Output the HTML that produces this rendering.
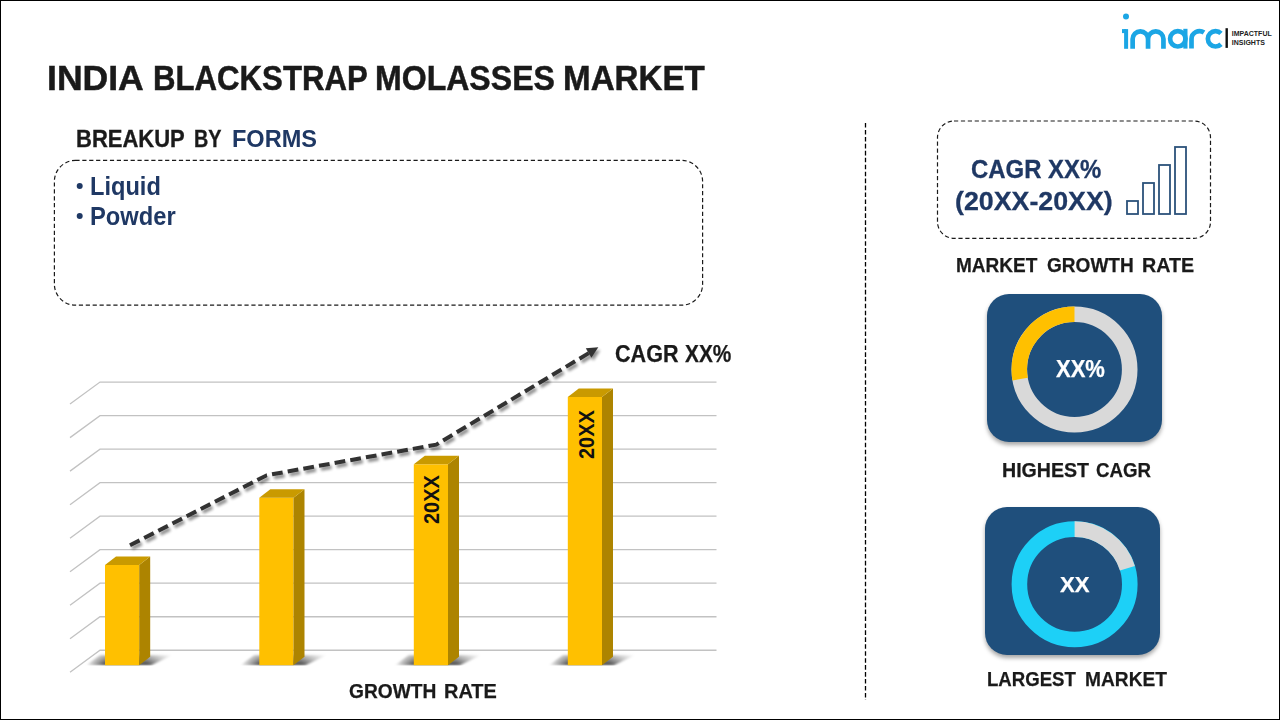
<!DOCTYPE html>
<html><head><meta charset="utf-8">
<style>
*{margin:0;padding:0;box-sizing:border-box}
html,body{width:1280px;height:720px;overflow:hidden;background:#fff}
body{position:relative;font-family:"Liberation Sans",sans-serif;font-weight:bold}
#frame{position:absolute;left:0;top:0;width:1280px;height:720px;border:1px solid #000}
.t{position:absolute;white-space:nowrap;line-height:1;transform-origin:0 0}
svg{position:absolute;left:0;top:0}
.card{position:absolute;background:#1f4f7c;border-radius:22px;box-shadow:0 3px 4px rgba(0,0,0,0.35)}
#t1,#t2,#t3,#t4{-webkit-text-stroke:0.5px #1a1a1a}
#b1,#b2{-webkit-text-stroke:0.35px #1a1a1a}
#c1,#c2{-webkit-text-stroke:0.3px #1f3864}
#m1,#m2,#m3,#h1,#h2,#g1,#g2,#r1,#r2,#k1,#k2{-webkit-text-stroke:0.25px #1a1a1a}
#x1,#x2{-webkit-text-stroke:0.25px #fff}
#t1{left:47.28px;top:59.95px;font-size:35.3px;color:#1a1a1a;transform:scaleX(1.0075)}
#t2{left:152.93px;top:59.95px;font-size:35.3px;color:#1a1a1a;transform:scaleX(0.8833)}
#t3{left:375.08px;top:59.95px;font-size:35.3px;color:#1a1a1a;transform:scaleX(0.9082)}
#t4{left:563.42px;top:59.95px;font-size:35.3px;color:#1a1a1a;transform:scaleX(0.9396)}
#b1{left:75.58px;top:126.70px;font-size:24px;color:#1a1a1a;transform:scaleX(0.9167)}
#b2{left:194.08px;top:126.70px;font-size:24px;color:#1a1a1a;transform:scaleX(0.8250)}
#b3{left:231.52px;top:126.70px;font-size:24px;color:#1f3864;transform:scaleX(0.9800)}
#l1{left:89.55px;top:173.84px;font-size:25.6px;color:#1f3864;transform:scaleX(0.9233)}
#l2{left:89.55px;top:203.84px;font-size:25.6px;color:#1f3864;transform:scaleX(0.9267)}
#c1{left:971.07px;top:156.84px;font-size:25.6px;color:#1f3864;transform:scaleX(0.9348)}
#c2{left:954.97px;top:187.70px;font-size:26px;color:#1f3864;transform:scaleX(1.0298)}
#m1{left:955.86px;top:254.50px;font-size:20.2px;color:#1a1a1a;transform:scaleX(0.9424)}
#m2{left:1046.76px;top:254.50px;font-size:20.2px;color:#1a1a1a;transform:scaleX(0.9433)}
#m3{left:1142.02px;top:254.50px;font-size:20.2px;color:#1a1a1a;transform:scaleX(0.9760)}
#h1{left:1002.24px;top:459.65px;font-size:20.5px;color:#1a1a1a;transform:scaleX(0.9556)}
#h2{left:1096.09px;top:459.65px;font-size:20.5px;color:#1a1a1a;transform:scaleX(0.9119)}
#g1{left:987.18px;top:669.08px;font-size:20.3px;color:#1a1a1a;transform:scaleX(0.9167)}
#g2{left:1085.31px;top:669.08px;font-size:20.3px;color:#1a1a1a;transform:scaleX(0.9448)}
#r1{left:348.75px;top:681.08px;font-size:20.3px;color:#1a1a1a;transform:scaleX(0.9456)}
#r2{left:443.62px;top:681.08px;font-size:20.3px;color:#1a1a1a;transform:scaleX(0.9827)}
#k1{left:614.96px;top:342.65px;font-size:23px;color:#1a1a1a;transform:scaleX(0.9379)}
#k2{left:684.60px;top:342.65px;font-size:23px;color:#1a1a1a;transform:scaleX(0.9059)}
#x1{left:1055.80px;top:357.62px;font-size:23.2px;color:#ffffff;transform:scaleX(0.9490)}
#x2{left:1060.40px;top:573.51px;font-size:22px;color:#ffffff;transform:scaleX(1.0069)}
</style></head>
<body>
<div id="frame"></div>

<svg width="1280" height="720">
<g fill="#1ba6e5">
<circle cx="1126" cy="16.5" r="3"/>
<rect x="1124.1" y="29.1" width="4" height="19.7"/>
<rect x="1122" y="29.1" width="4" height="4"/>
<rect x="1183.3" y="28.8" width="4.2" height="19.8"/>
</g>
<g fill="none" stroke="#1ba6e5" stroke-width="4.7">
<path d="M1132.65,48.8 V39 A7.7,7.7 0 0 1 1148.05,39 V48.8 M1148.05,39 A7.7,7.7 0 0 1 1163.45,39 V48.8"/>
<circle cx="1177.8" cy="38.8" r="7.7"/>
<path d="M1191.5,48.6 V39 A8,8 0 0 1 1204,32.5"/>
<path d="M1221,33.35 A7.7,7.7 0 1 0 1221,44.25"/>
</g>
<rect x="1225.5" y="28.2" width="2.4" height="19.7" fill="#111"/>
<text x="1231.8" y="36.1" font-size="7" font-weight="bold" fill="#222" font-family="Liberation Sans">IMPACTFUL</text>
<text x="1231.8" y="44.6" font-size="7" font-weight="bold" fill="#222" font-family="Liberation Sans">INSIGHTS</text>
</svg>



<svg width="1280" height="720"><rect x="54.4" y="160.4" width="648.2" height="144.8" rx="21" fill="none" stroke="#1a1a1a" stroke-width="1.2" stroke-dasharray="4.2 2.7"/><rect x="937.5" y="121" width="273" height="117.3" rx="16.5" fill="none" stroke="#1a1a1a" stroke-width="1.2" stroke-dasharray="4.2 2.7"/></svg>



<svg width="1280" height="720"><line x1="865.5" y1="123" x2="865.5" y2="700" stroke="#000" stroke-width="1.3" stroke-dasharray="4.6 2.35"/><circle cx="79.7" cy="185.9" r="3" fill="#1f3864"/><circle cx="79.7" cy="215.9" r="3" fill="#1f3864"/></svg>



<svg width="1280" height="720">
<g fill="none" stroke="#2c527a" stroke-width="1.8">
<rect x="1127" y="201" width="11" height="13"/>
<rect x="1143" y="183" width="11" height="31"/>
<rect x="1159" y="165" width="11" height="49"/>
<rect x="1175" y="147" width="11" height="67"/>
</g>
</svg>


<div class="card" style="left:987px;top:294px;width:175px;height:148px"></div>
<div class="card" style="left:985px;top:507px;width:175px;height:148px"></div>
<svg width="1280" height="720">
<circle cx="1074.5" cy="369.5" r="55.2" fill="none" stroke="#d9d9d9" stroke-width="15.6"/>
<path d="M1020.14,379.09 A55.2,55.2 0 0 1 1074.49,314.30" fill="none" stroke="#ffc000" stroke-width="15.6"/>
<circle cx="1074.6" cy="584.3" r="55.2" fill="none" stroke="#1dd0f7" stroke-width="15.6"/>
<path d="M1074.61,529.10 A55.2,55.2 0 0 1 1127.39,568.16" fill="none" stroke="#d9d9d9" stroke-width="15.6"/>
</svg>





<svg id="chart" width="1280" height="720">
<defs>
<linearGradient id="sh" x1="0" x2="1" y1="0" y2="0"><stop offset="0" stop-color="#000" stop-opacity="0"/><stop offset="0.22" stop-color="#000" stop-opacity="0.75"/><stop offset="0.7" stop-color="#000" stop-opacity="0.75"/><stop offset="1" stop-color="#000" stop-opacity="0"/></linearGradient>
<filter id="bl" x="-20%" y="-50%" width="140%" height="200%"><feGaussianBlur stdDeviation="0.9"/></filter><linearGradient id="shv" gradientUnits="userSpaceOnUse" x1="0" y1="654" x2="0" y2="665.5"><stop offset="0" stop-color="#fff" stop-opacity="0.25"/><stop offset="1" stop-color="#fff" stop-opacity="1"/></linearGradient><mask id="shm" maskUnits="userSpaceOnUse" x="0" y="600" width="1280" height="120"><rect x="0" y="600" width="1280" height="65.6" fill="url(#shv)"/></mask>
<filter id="ds" x="-10%" y="-10%" width="120%" height="120%"><feGaussianBlur in="SourceAlpha" stdDeviation="1.6"/><feOffset dx="2" dy="3"/><feComponentTransfer><feFuncA type="linear" slope="0.45"/></feComponentTransfer><feMerge><feMergeNode/><feMergeNode in="SourceGraphic"/></feMerge></filter>
</defs>
<g fill="none" stroke="#c2c2c2" stroke-width="1.3"><path d="M70,404.10 L100,382.10 L716.5,382.10"/><path d="M70,437.62 L100,415.62 L716.5,415.62"/><path d="M70,471.14 L100,449.14 L716.5,449.14"/><path d="M70,504.66 L100,482.66 L716.5,482.66"/><path d="M70,538.18 L100,516.18 L716.5,516.18"/><path d="M70,571.70 L100,549.70 L716.5,549.70"/><path d="M70,605.22 L100,583.22 L716.5,583.22"/><path d="M70,638.74 L100,616.74 L716.5,616.74"/><path d="M70,672.26 L100,650.26 L716.5,650.26"/></g>
<g mask="url(#shm)"><g fill="url(#sh)" filter="url(#bl)"><polygon points="86.0,665.2 151.0,665.2 173.0,654.7 100.0,654.7"/><polygon points="240.3,665.2 305.3,665.2 327.3,654.7 254.3,654.7"/><polygon points="394.8,665.2 459.8,665.2 481.8,654.7 408.8,654.7"/><polygon points="548.8,665.2 613.8,665.2 635.8,654.7 562.8,654.7"/></g></g>
<rect x="105" y="565" width="34.2" height="100.2" fill="#ffc000"/><polygon points="139.2,565 150.2,556.5 150.2,656.7 139.2,665.2" fill="#ad8400"/><polygon points="105.0,565 116.0,556.5 150.2,556.5 139.2,565" fill="#c99a00"/><rect x="259.3" y="497.7" width="34.2" height="167.5" fill="#ffc000"/><polygon points="293.5,497.7 304.5,489.2 304.5,656.7 293.5,665.2" fill="#ad8400"/><polygon points="259.3,497.7 270.3,489.2 304.5,489.2 293.5,497.7" fill="#c99a00"/><rect x="413.8" y="464.3" width="34.2" height="200.9" fill="#ffc000"/><polygon points="448.0,464.3 459.0,455.8 459.0,656.7 448.0,665.2" fill="#ad8400"/><polygon points="413.8,464.3 424.8,455.8 459.0,455.8 448.0,464.3" fill="#c99a00"/><rect x="567.8" y="397" width="34.2" height="268.2" fill="#ffc000"/><polygon points="602.0,397 613.0,388.5 613.0,656.7 602.0,665.2" fill="#ad8400"/><polygon points="567.8,397 578.8,388.5 613.0,388.5 602.0,397" fill="#c99a00"/>
<g filter="url(#ds)">
<path d="M130,545.3 L266.7,475.3 L436.3,444.6 L589,353" fill="none" stroke="#333" stroke-width="4" stroke-dasharray="10.8 5.1"/>
<polygon points="585.8,348.3 598.3,347.3 591.4,357.8" fill="#333"/>
</g>
<text transform="translate(438.9,524) rotate(-90) scale(0.93,1)" font-size="21.5" font-weight="bold" fill="#111" font-family="Liberation Sans">20XX</text>
<text transform="translate(593.8,459) rotate(-90) scale(0.93,1)" font-size="21.5" font-weight="bold" fill="#111" font-family="Liberation Sans">20XX</text>

</svg>

<div class="t" id="t1">INDIA</div>
<div class="t" id="t2">BLACKSTRAP</div>
<div class="t" id="t3">MOLASSES</div>
<div class="t" id="t4">MARKET</div>
<div class="t" id="b1">BREAKUP</div>
<div class="t" id="b2">BY</div>
<div class="t" id="b3">FORMS</div>
<div class="t" id="l1">Liquid</div>
<div class="t" id="l2">Powder</div>
<div class="t" id="c1">CAGR XX%</div>
<div class="t" id="c2">(20XX-20XX)</div>
<div class="t" id="m1">MARKET</div>
<div class="t" id="m2">GROWTH</div>
<div class="t" id="m3">RATE</div>
<div class="t" id="h1">HIGHEST</div>
<div class="t" id="h2">CAGR</div>
<div class="t" id="g1">LARGEST</div>
<div class="t" id="g2">MARKET</div>
<div class="t" id="r1">GROWTH</div>
<div class="t" id="r2">RATE</div>
<div class="t" id="k1">CAGR</div>
<div class="t" id="k2">XX%</div>
<div class="t" id="x1">XX%</div>
<div class="t" id="x2">XX</div>
</body></html>
